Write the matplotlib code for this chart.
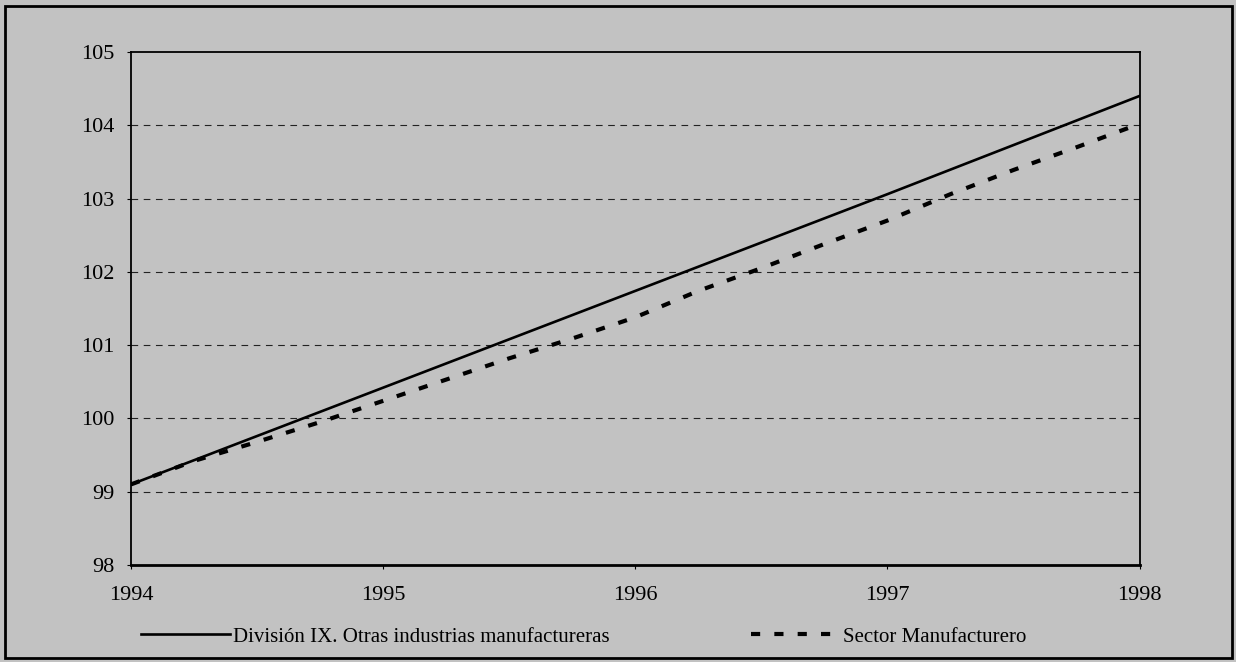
import matplotlib
matplotlib.use("Agg")
import matplotlib.pyplot as plt
from matplotlib.patches import Rectangle

# Division IX: yearly index values
years = [1994, 1995, 1996, 1997, 1998]
div_ix = [99.10, 100.42, 101.74, 103.06, 104.40]

# Manufacturing sector: quarterly index values
quarters = [1994.0, 1994.25, 1994.5, 1994.75, 1995.0, 1995.25, 1995.5, 1995.75,
            1996.0, 1996.25, 1996.5, 1996.75, 1997.0, 1997.25, 1997.5, 1997.75, 1998.0]
sector = [99.10, 99.42, 99.68, 99.95, 100.24, 100.53, 100.82, 101.09,
          101.38, 101.74, 102.05, 102.38, 102.70, 103.06, 103.39, 103.70, 104.02]

y_ticks = [98, 99, 100, 101, 102, 103, 104, 105]

bg = "#c2c2c2"
plt.rcParams["font.family"] = ["Liberation Serif", "DejaVu Serif"]

fig = plt.figure(figsize=(12.36, 6.62), dpi=100, facecolor=bg)
ax = fig.add_axes([0.106, 0.1465, 0.816, 0.775], facecolor=bg)

ax.plot(years, div_ix, color="black", lw=1.9, label="División IX. Otras industrias manufactureras")
ax.plot(quarters, sector, color="black", lw=3.0, dashes=(2.2, 3.4),
        label="Sector Manufacturero")

ax.set_xlim(1994, 1998)
ax.set_ylim(98, 105)
ax.set_yticks(y_ticks)
ax.set_xticks(years)
ax.tick_params(axis="both", labelsize=16, length=3, color="black")
ax.tick_params(axis="y", pad=9)
ax.tick_params(axis="x", pad=12)

for v in y_ticks[1:-1]:
    ax.axhline(v, color="#222222", lw=0.8, dashes=(6, 5), zorder=0)

for side in ["top", "right", "left"]:
    ax.spines[side].set_linewidth(1.3)
ax.spines["bottom"].set_linewidth(2.0)

fig.legend(loc="center", bbox_to_anchor=(0.472, 0.038), ncol=2, frameon=False,
           fontsize=15, handlelength=4.3, handletextpad=0.1, columnspacing=6.8)

fig.add_artist(Rectangle((0.004, 0.006), 0.993, 0.985, transform=fig.transFigure,
                         fill=False, edgecolor="black", lw=2))

plt.savefig("out.png", dpi=100, facecolor=bg)
